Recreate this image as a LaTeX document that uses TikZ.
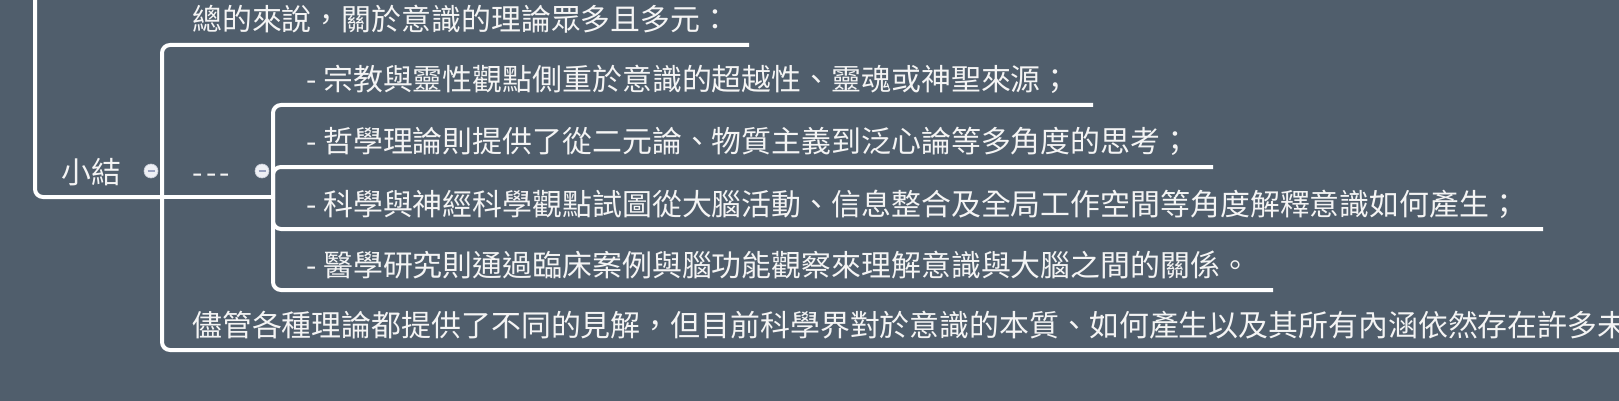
\documentclass[tikz,border=0pt]{standalone}
\usepackage{fontspec}
\setmainfont{Noto Sans CJK TC}
\definecolor{bg}{HTML}{505E6C}
\definecolor{txt}{HTML}{F4F4F4}
\definecolor{dotfill}{HTML}{EEF0F5}
\definecolor{dotedge}{HTML}{C9CDD8}
\definecolor{dotbar}{HTML}{9AA2C0}
\begin{document}
\begin{tikzpicture}[x=1pt,y=-1pt,
  conn/.style={draw=white,line width=4pt,rounded corners=8pt},
  lbl/.style={anchor=base west,inner sep=0pt,text=txt,font=\fontsize{29.9}{36}\selectfont},
  foldcircle/.style={circle,fill=dotfill,draw=dotedge,line width=0.6pt,minimum size=14pt,inner sep=0pt,
    path picture={\draw[dotbar,line width=2pt] ([xshift=-3.5pt]path picture bounding box.center) -- ([xshift=3.5pt]path picture bounding box.center);}}]
\useasboundingbox (0,0) rectangle (1619,401);
\fill[bg] (0,0) rectangle (1619,401);
% coordinates of connector ends
\coordinate (g) at (35,-10);
\coordinate (sumR) at (162,197);
\coordinate (dashR) at (273,197);
\coordinate (topEnd) at (749,45);
\coordinate (botEnd) at (1640,350);
\coordinate (c1End) at (1093,105);
\coordinate (c2End) at (1213,167);
\coordinate (c3End) at (1543,229);
\coordinate (c4End) at (1273,290);
% connectors
\draw[conn] (g) |- (sumR);
\draw[conn] (sumR) |- (topEnd);
\draw[conn] (sumR) |- (botEnd);
\draw[conn] (sumR) -- (dashR);
\draw[conn] (dashR) |- (c1End);
\draw[conn] (dashR) |- (c2End);
\draw[conn] (dashR) |- (c3End);
\draw[conn] (dashR) |- (c4End);
% texts
\node[lbl] (summary) at (61,183) {小結};
\node[lbl] (dash) at (192,183) {-\kern3.5pt-\kern3.5pt-};
\node[lbl] (top) at (192,31) {總的來說，關於意識的理論眾多且多元：};
\node[lbl] (c1) at (306,91) {- 宗教與靈性觀點側重於意識的超越性、靈魂或神聖來源；};
\node[lbl] (c2) at (306,153) {- 哲學理論則提供了從二元論、物質主義到泛心論等多角度的思考；};
\node[lbl] (c3) at (306,215) {- 科學與神經科學觀點試圖從大腦活動、信息整合及全局工作空間等角度解釋意識如何產生；};
\node[lbl] (c4) at (306,276) {- 醫學研究則通過臨床案例與腦功能觀察來理解意識與大腦之間的關係。};
\node[lbl] (bottom) at (192,336) {儘管各種理論都提供了不同的見解，但目前科學界對於意識的本質、如何產生以及其所有內涵依然存在許多未};
% fold markers
\node[foldcircle] (fold1) at (151,171) {};
\node[foldcircle] (fold2) at (262,171) {};
\end{tikzpicture}
\end{document}
